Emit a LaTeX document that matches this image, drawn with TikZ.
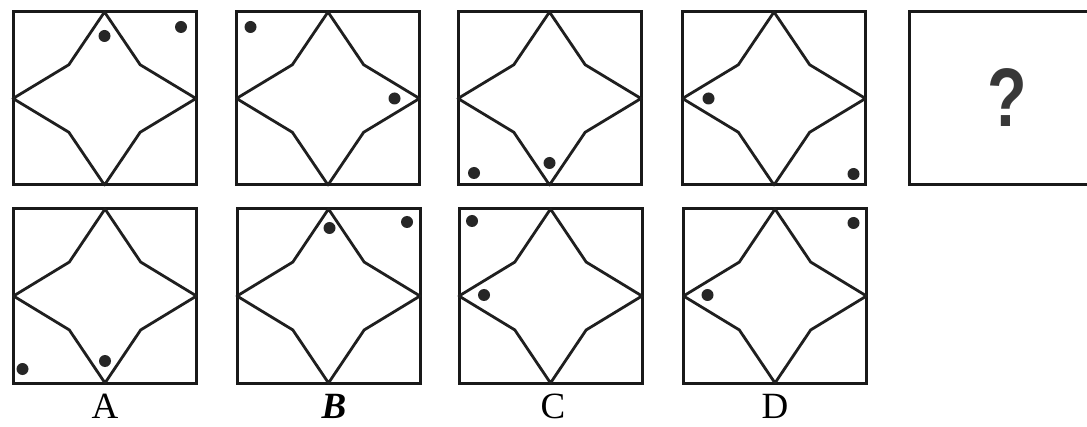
\documentclass[tikz,border=0pt]{standalone}
\usepackage{fontspec}
\setmainfont{Liberation Serif}
\newfontfamily\qmarkfont{Liberation Sans}
\usepackage{tikz}
\usetikzlibrary{calc}
\tikzset{
  panel/.style={
    draw=black!90, line width=3pt, outer sep=0pt, inner sep=0pt,
    minimum width=183pt, minimum height=173pt
  },
  starline/.style={
    draw=black!88, line width=2.8pt, line join=round
  },
  dotfill/.style={fill=black!85},
  optlabel/.style={
    anchor=base, inner sep=0pt, font=\fontsize{37}{40}\selectfont
  },
}

\begin{document}
\begin{tikzpicture}[x=1pt, y=1pt]
  \clip (0,0) rectangle (1087,426);
  \fill[white] (0,0) rectangle (1087,426);

  % --- Question row ---
  \node[panel] (p1) at (104.5,327.5) {};
  \node[panel] (p2) at (328,327.5) {};
  \node[panel] (p3) at (549.5,327.5) {};
  \node[panel] (p4) at (774,327.5) {};
  \node[panel, minimum width=194pt] (q) at (1006,327.5) {};
  \node[font=\qmarkfont\bfseries\fontsize{83}{90}\selectfont, text=black!78,
    inner sep=0pt, xscale=0.78] (qmark) at (1007,328.5) {?};

  % --- Answer row ---
  \node[panel, minimum height=174pt] (a) at (105,130) {};
  \node[panel, minimum height=174pt] (b) at (328.5,130) {};
  \node[panel, minimum height=174pt] (c) at (550.5,130) {};
  \node[panel, minimum height=174pt] (d) at (775,130) {};

  % Stars
  \foreach \p in {p1,p2,p3,p4,a,b,c,d}
    \draw[starline] (\p.north)
      -- ($(\p.center)!0.39!(\p.north east)$) -- (\p.east)
      -- ($(\p.center)!0.39!(\p.south east)$) -- (\p.south)
      -- ($(\p.center)!0.39!(\p.south west)$) -- (\p.west)
      -- ($(\p.center)!0.39!(\p.north west)$) -- cycle;

  % Dots, question row
  \fill[dotfill] ($(p1.north)+(0,-24)$) circle (6pt);
  \fill[dotfill] ($(p1.north east)+(-15,-15)$) circle (6pt);
  \fill[dotfill] ($(p2.north west)+(14,-15)$) circle (6pt);
  \fill[dotfill] ($(p2.east)+(-25,0)$) circle (6pt);
  \fill[dotfill] ($(p3.south west)+(16,12)$) circle (6pt);
  \fill[dotfill] ($(p3.south)+(0,22)$) circle (6pt);
  \fill[dotfill] ($(p4.west)+(26,0)$) circle (6pt);
  \fill[dotfill] ($(p4.south east)+(-12,11)$) circle (6pt);

  % Dots, answer row
  \fill[dotfill] ($(a.south west)+(9,14)$) circle (6pt);
  \fill[dotfill] ($(a.south)+(0,22)$) circle (6pt);
  \fill[dotfill] ($(b.north)+(1,-19)$) circle (6pt);
  \fill[dotfill] ($(b.north east)+(-13,-13)$) circle (6pt);
  \fill[dotfill] ($(c.north west)+(13,-12)$) circle (6pt);
  \fill[dotfill] ($(c.west)+(25,1)$) circle (6pt);
  \fill[dotfill] ($(d.north east)+(-13,-14)$) circle (6pt);
  \fill[dotfill] ($(d.west)+(24,1)$) circle (6pt);

  % Labels
  \node[optlabel] (la) at (105,8) {A};
  \node[optlabel, font=\fontsize{37}{40}\selectfont\bfseries\itshape]
    (lb) at (334,8) {B};
  \node[optlabel] (lc) at (553,8) {C};
  \node[optlabel] (ld) at (775,8) {D};
\end{tikzpicture}
\end{document}
